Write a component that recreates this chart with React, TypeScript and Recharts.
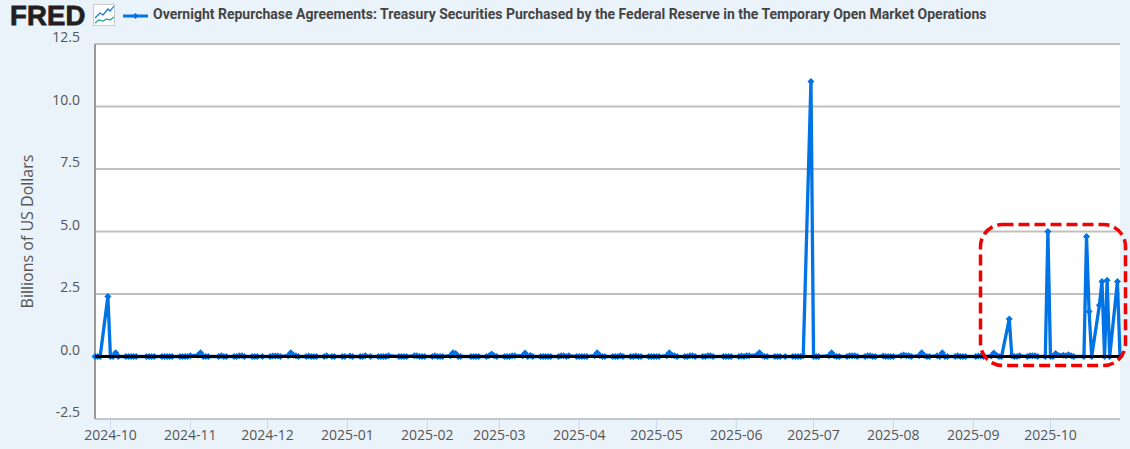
import React from "react";
import {
  LineChart,
  Line,
  XAxis,
  YAxis,
  CartesianGrid,
  ReferenceLine,
} from "recharts";

const TITLE =
  "Overnight Repurchase Agreements: Treasury Securities Purchased by the Federal Reserve in the Temporary Open Market Operations";
const BLUE = "#0073e6";

// month -> business days published, values in billions
const sep24Days = [25, 26, 27, 30];
const sep24Vals = [0, 0, 0, 2.4];
const oct24Days = [1, 2, 3, 4, 7, 8, 9, 10, 11, 15, 16, 17, 18, 21, 22, 23, 24, 25, 28, 29, 30, 31];
const oct24Vals = [0, 0, 0.15, 0, 0, 0, 0, 0, 0, 0, 0, 0, 0, 0, 0, 0, 0, 0, 0, 0, 0, 0];
const nov24Days = [1, 4, 5, 6, 7, 8, 12, 13, 14, 15, 18, 19, 20, 21, 22, 25, 26, 27, 29];
const nov24Vals = [0.03, 0.05, 0.15, 0, 0, 0, 0, 0.03, 0, 0, 0, 0, 0.03, 0.03, 0, 0, 0, 0, 0];
const dec24Days = [2, 3, 4, 5, 6, 9, 10, 11, 12, 13, 16, 17, 18, 19, 20, 23, 24, 26, 27, 30, 31];
const dec24Vals = [0, 0.02, 0.02, 0.02, 0, 0.03, 0.15, 0.05, 0.03, 0, 0, 0.02, 0, 0, 0, 0, 0.03, 0, 0, 0, 0];
const jan25Days = [2, 3, 6, 7, 8, 10, 13, 14, 15, 16, 17, 21, 22, 23, 24, 27, 28, 29, 30, 31];
const jan25Vals = [0.02, 0, 0, 0, 0.03, 0, 0, 0, 0, 0, 0.03, 0, 0, 0, 0, 0.03, 0.03, 0, 0, 0];
const feb25Days = [3, 4, 5, 6, 7, 10, 11, 12, 13, 14, 18, 19, 20, 21, 24, 25, 26, 27, 28];
const feb25Vals = [0, 0.03, 0, 0, 0, 0.03, 0.15, 0.12, 0, 0, 0, 0, 0, 0, 0, 0.03, 0.1, 0.03, 0];
const mar25Days = [3, 4, 5, 6, 7, 10, 11, 12, 13, 14, 17, 18, 19, 20, 21, 24, 25, 26, 27, 28, 31];
const mar25Vals = [0, 0, 0, 0.03, 0.03, 0.03, 0.14, 0, 0.04, 0, 0, 0, 0, 0, 0, 0, 0.03, 0.03, 0, 0.03, 0];
const apr25Days = [1, 2, 3, 4, 7, 8, 9, 10, 11, 14, 15, 16, 17, 18, 21, 22, 23, 24, 25, 28, 29, 30];
const apr25Vals = [0, 0, 0, 0, 0.03, 0.15, 0.04, 0, 0, 0, 0, 0, 0.03, 0, 0, 0, 0.02, 0, 0, 0, 0, 0];
const may25Days = [1, 2, 5, 6, 7, 8, 9, 12, 13, 14, 15, 16, 19, 20, 21, 22, 23, 27, 28, 29, 30];
const may25Vals = [0, 0, 0.03, 0.15, 0.05, 0.03, 0, 0, 0, 0.03, 0.03, 0, 0, 0, 0.03, 0.03, 0, 0, 0, 0, 0];
const jun25Days = [2, 3, 4, 5, 6, 9, 10, 11, 12, 13, 16, 17, 18, 20, 23, 24, 25, 26, 27, 30];
const jun25Vals = [0, 0.02, 0, 0.03, 0.03, 0.06, 0.15, 0.04, 0, 0, 0, 0, 0, 0, 0, 0, 0, 0, 0.03, 11.0];
const jul25Days = [1, 2, 3, 7, 8, 9, 10, 11, 14, 15, 16, 17, 18, 21, 22, 23, 24, 25, 28, 29, 30, 31];
const jul25Vals = [0, 0, 0, 0.03, 0.15, 0.03, 0, 0, 0, 0.03, 0.03, 0.03, 0, 0, 0.03, 0.03, 0, 0, 0.02, 0, 0, 0];
const aug25Days = [1, 4, 5, 6, 7, 8, 11, 12, 13, 14, 15, 18, 19, 20, 21, 22, 25, 26, 27, 28, 29];
const aug25Vals = [0, 0.03, 0.06, 0.03, 0.03, 0, 0.03, 0.15, 0.04, 0, 0, 0.03, 0, 0.15, 0, 0, 0, 0.03, 0, 0, 0];
const sep25Days = [2, 3, 4, 5, 8, 9, 10, 11, 12, 15, 16, 17, 18, 19, 22, 23, 24, 25, 26, 29, 30];
const sep25Vals = [0, 0.02, 0.02, 0, 0.02, 0.14, 0.05, 0, 0, 1.5, 0.03, 0, 0, 0.03, 0, 0.03, 0.03, 0.03, 0, 0, 5.0];
const oct25Days = [1, 2, 3, 6, 7, 8, 9, 10, 14, 15, 16, 17, 20, 21, 22, 23, 24, 27, 28];
const oct25Vals = [0, 0, 0.12, 0.05, 0.03, 0.07, 0.03, 0, 0, 4.8, 1.8, 0, 2.05, 3.0, 0, 3.05, 0, 3.0, 0];

const months: [number, number, number[], number[]][] = [
  [2024, 8, sep24Days, sep24Vals],
  [2024, 9, oct24Days, oct24Vals],
  [2024, 10, nov24Days, nov24Vals],
  [2024, 11, dec24Days, dec24Vals],
  [2025, 0, jan25Days, jan25Vals],
  [2025, 1, feb25Days, feb25Vals],
  [2025, 2, mar25Days, mar25Vals],
  [2025, 3, apr25Days, apr25Vals],
  [2025, 4, may25Days, may25Vals],
  [2025, 5, jun25Days, jun25Vals],
  [2025, 6, jul25Days, jul25Vals],
  [2025, 7, aug25Days, aug25Vals],
  [2025, 8, sep25Days, sep25Vals],
  [2025, 9, oct25Days, oct25Vals],
];

const monthTicks = [
  "2024-10", "2024-11", "2024-12", "2025-01", "2025-02", "2025-03",
  "2025-04", "2025-05", "2025-06", "2025-07", "2025-08", "2025-09", "2025-10",
];
const yTicks = [-2.5, 0, 2.5, 5, 7.5, 10, 12.5];

const chartData = months.flatMap(([y, m, days, vals]) =>
  days.map((d, i) => ({ t: Date.UTC(y, m, d), value: vals[i] }))
);
const xTicks = monthTicks.map((s) => Date.parse(s + "-01T00:00:00Z"));

function formatMonth(t: number) {
  return new Date(t).toISOString().slice(0, 7);
}

function Diamond(props: any) {
  const { cx, cy, index } = props;
  return (
    <path
      key={index}
      d={`M${cx} ${cy - 3.5}L${cx + 3.5} ${cy}L${cx} ${cy + 3.5}L${cx - 3.5} ${cy}Z`}
      fill={BLUE}
    />
  );
}

function YTick(props: any) {
  const { y, payload } = props;
  return (
    <text x={80} y={y - 2} textAnchor="end" fontSize={14} fill="#555" fontFamily="'Open Sans'">
      {payload.value.toFixed(1)}
    </text>
  );
}

export default function App() {
  return (
    <div
      style={{
        position: "absolute",
        left: 0,
        top: 0,
        width: 1130,
        height: 449,
        background: "#eaf2fa",
        overflow: "hidden",
      }}
    >
      <LineChart
        width={1130}
        height={449}
        data={chartData}
        margin={{ top: 44, right: 10, left: 0, bottom: 0 }}
      >
        <CartesianGrid
          vertical={false}
          stroke="#c0c0c0"
          strokeWidth={2}
          fill="#ffffff"
          fillOpacity={1}
        />
        <XAxis
          dataKey="t"
          type="number"
          scale="time"
          domain={[Date.UTC(2024, 8, 25), Date.UTC(2025, 9, 28)]}
          ticks={xTicks}
          tickFormatter={formatMonth}
          interval={0}
          height={30}
          tickSize={10}
          tickMargin={1}
          tick={{ fontSize: 14, fill: "#555", fontFamily: "'Open Sans'" }}
          tickLine={{ stroke: "#ccd6eb" }}
          axisLine={{ stroke: "#c0c8d0", strokeWidth: 2 }}
        />
        <YAxis
          type="number"
          domain={[-2.5, 12.5]}
          ticks={yTicks}
          interval={0}
          width={95}
          tickLine={false}
          axisLine={{ stroke: "#999", strokeWidth: 2 }}
          tick={<YTick />}
          label={{
            value: "Billions of US Dollars",
            angle: -90,
            position: "insideLeft",
            offset: 0,
            dx: 27,
            style: { textAnchor: "middle", fontSize: 16, fill: "#555", fontFamily: "'Open Sans'" },
          }}
        />
        <Line
          dataKey="value"
          type="linear"
          stroke={BLUE}
          strokeWidth={3.3}
          dot={Diamond}
          activeDot={false}
          isAnimationActive={false}
        />
        <ReferenceLine y={0} stroke="#000" strokeWidth={3} {...({ zIndex: 1000 } as any)} />
      </LineChart>

      {/* header: logo, icon and legend */}
      <div
        style={{
          position: "absolute",
          left: 10,
          top: 1.5,
          fontFamily: "'Liberation Sans'",
          fontWeight: 700,
          fontSize: 27.5,
          lineHeight: "28px",
          color: "#231f20",
          letterSpacing: 0.2,
          WebkitTextStroke: "0.8px #231f20",
        }}
      >
        FRED
      </div>
      <svg style={{ position: "absolute", left: 0, top: 0 }} width={1130} height={449}>
        <rect x={93.5} y={4.5} width={21} height={21} fill="#fff" stroke="#c8ccd0" />
        <polyline points="95,18 100,13 103,15 108,9 110,11 114,6" fill="none" stroke="#1a73d0" strokeWidth={1.2} />
        <polyline points="95,23 99,20 103,21 107,19 110,20 114,17" fill="none" stroke="#2aa58a" strokeWidth={1.2} />
        <line x1={123} x2={148} y1={16} y2={16} stroke={BLUE} strokeWidth={3} />
        <path d="M135.5 13L138.5 16L135.5 19L132.5 16Z" fill={BLUE} />
        <text x={153} y={19} fontFamily="Roboto" fontWeight={700} fontSize={14} fill="#444">
          {TITLE}
        </text>
        {/* red callout */}
        <rect
          x={980.5}
          y={224.5}
          width={145}
          height={141}
          rx={22}
          fill="none"
          stroke="#f00000"
          strokeWidth={3.5}
          strokeDasharray="11 5"
        />
      </svg>
    </div>
  );
}
